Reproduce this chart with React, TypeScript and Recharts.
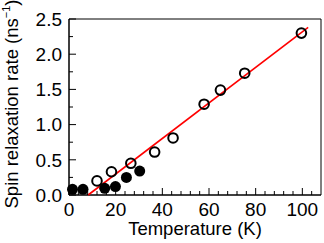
import React from 'react';
import { ComposedChart, Scatter, XAxis, YAxis, ReferenceArea } from 'recharts';

// open circles
const openTemp = [12, 18.2, 26.5, 36.7, 44.6, 57.9, 64.9, 75.3, 99.6];
const openRate = [0.2, 0.33, 0.45, 0.61, 0.81, 1.29, 1.49, 1.73, 2.3];
// filled circles
const filledTemp = [1.5, 6, 15.3, 19.9, 24.6, 30.3];
const filledRate = [0.08, 0.08, 0.095, 0.12, 0.25, 0.34];
// linear fit (red)
const fitTemp = [8.2, 102.5];
const fitRate = [0, 2.38];

const xMajor = [0, 20, 40, 60, 80, 100];
const xTicks = [0, 4, 8, 12, 16, 20, 24, 28, 32, 36, 40, 44, 48, 52, 56, 60, 64, 68, 72, 76, 80, 84, 88, 92, 96, 100, 104];
const yMajor = [0, 0.5, 1, 1.5, 2, 2.5];
const yTicks = [0, 0.25, 0.5, 0.75, 1, 1.25, 1.5, 1.75, 2, 2.25, 2.5];

const toPoints = (xs: number[], ys: number[]) => xs.map((t, i) => ({ t, rate: ys[i] }));
const openData = toPoints(openTemp, openRate);
const filledData = toPoints(filledTemp, filledRate);
const fitData = toPoints(fitTemp, fitRate);

const font = '"Liberation Sans", Arial, sans-serif';

const XTick = (props: any) => {
  const { x, y, payload } = props;
  const major = xMajor.includes(payload.value);
  return (
    <g>
      <line x1={x} y1={y} x2={x} y2={y - (major ? 7 : 4)} stroke="#000" strokeWidth={1} />
      {major && (
        <text x={x} y={y + 21} textAnchor="middle" fontSize={19} fontFamily={font} fill="#000">
          {payload.value}
        </text>
      )}
    </g>
  );
};

const YTick = (props: any) => {
  const { x, y, payload } = props;
  const major = yMajor.includes(payload.value);
  return (
    <g>
      <line x1={x} y1={y} x2={x + (major ? 7 : 4)} y2={y} stroke="#000" strokeWidth={1} />
      {major && (
        <text x={x - 7} y={y} dy="0.355em" textAnchor="end" fontSize={19} fontFamily={font} fill="#000">
          {payload.value.toFixed(1)}
        </text>
      )}
    </g>
  );
};

const OpenDot = (props: any) => (
  <circle cx={props.cx} cy={props.cy} r={4.8} fill="none" stroke="#000" strokeWidth={2} />
);
const FilledDot = (props: any) => <circle cx={props.cx} cy={props.cy} r={5.5} fill="#000" />;
const NoDot = () => <g />;

export default function App() {
  return (
    <div style={{ position: 'absolute', left: 0, top: 0, background: '#fff' }}>
      <ComposedChart width={324} height={243} margin={{ top: 19, right: 3, left: 0, bottom: 0 }}>
        <XAxis
          dataKey="t"
          type="number"
          domain={[0, 108]}
          ticks={xTicks}
          interval={0}
          tickSize={0}
          tickMargin={0}
          tickLine={false}
          tick={<XTick />}
          axisLine={{ stroke: '#000' }}
          height={48}
          label={(p: any) => (
            <text
              x={p.viewBox.x + p.viewBox.width / 2}
              y={p.viewBox.y + 40}
              textAnchor="middle"
              fontSize={18.5}
              fontFamily={font}
              fill="#000"
            >
              Temperature (K)
            </text>
          )}
        />
        <YAxis
          dataKey="rate"
          type="number"
          domain={[0, 2.5]}
          ticks={yTicks}
          interval={0}
          tickSize={0}
          tickMargin={0}
          tickLine={false}
          tick={<YTick />}
          axisLine={{ stroke: '#000' }}
          width={69}
          label={(p: any) => (
            <text
              x={18}
              y={104}
              transform="rotate(-90 18 104)"
              textAnchor="middle"
              fontSize={18.5}
              fontFamily={font}
              fill="#000"
            >
              Spin relaxation rate (ns
              <tspan fontSize={11} dy={-8}>−1</tspan>
              <tspan dy={8}>)</tspan>
            </text>
          )}
        />
        <ReferenceArea x1={0} x2={108} y1={0} y2={2.5} fill="none" stroke="#000" strokeWidth={1} />
        <Scatter data={fitData} line={{ stroke: '#ff0000', strokeWidth: 1.6 }} shape={<NoDot />} isAnimationActive={false} />
        <Scatter data={openData} shape={<OpenDot />} isAnimationActive={false} />
        <Scatter data={filledData} shape={<FilledDot />} isAnimationActive={false} />
      </ComposedChart>
    </div>
  );
}
